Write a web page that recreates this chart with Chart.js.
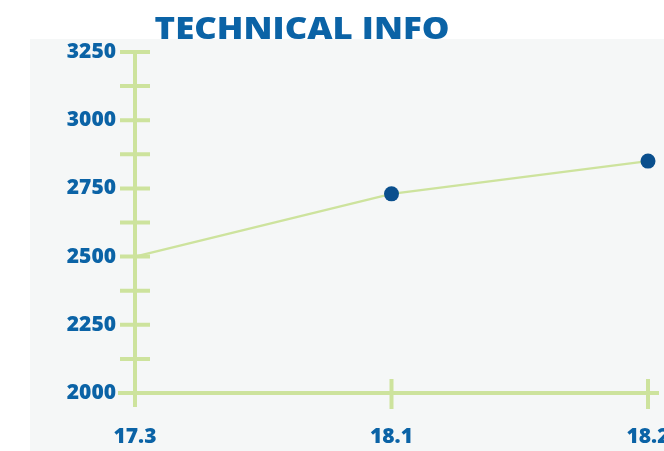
<!DOCTYPE html>
<html>
<head>
<meta charset="utf-8">
<script src="https://cdn.jsdelivr.net/npm/chart.js@4"></script>
<style>
  html, body { margin: 0; padding: 0; background: #fff; }
  #wrap { width: 664px; height: 451px; position: relative; }
</style>
</head>
<body>
<div id="wrap"><canvas id="chart"></canvas></div>
<script>
const labels = ['17.3', '18.1', '18.2'];
const values = [2500, 2730, 2850];
const dotSizes = [0, 7.5, 7.5];
const yMin = 2000;
const yMax = 3250;
const yStep = 125;

const green = '#cde39d';
const blue = '#0b63a6';
const dotBlue = '#0a4f8d';

// gray panel, axis lines with crossing ticks, and the heading
const decorations = {
  id: 'decorations',
  beforeDraw(chart) {
    const ctx = chart.ctx;
    ctx.save();
    ctx.fillStyle = '#f5f7f7';
    ctx.fillRect(30, 39, chart.width - 30, chart.height - 39);
    ctx.restore();
  },
  beforeDatasetsDraw(chart) {
    const { ctx, chartArea, scales } = chart;
    const x0 = scales.x.getPixelForValue(0);
    const y0 = scales.y.getPixelForValue(yMin);
    ctx.save();
    ctx.strokeStyle = green;
    ctx.lineWidth = 4;
    ctx.beginPath();
    ctx.moveTo(x0, chartArea.top - 1);
    ctx.lineTo(x0, y0 + 14);
    ctx.moveTo(x0 - 17, y0);
    ctx.lineTo(chart.width - 5, y0);
    scales.y.ticks.forEach(t => {
      const y = scales.y.getPixelForValue(t.value);
      if (t.value === yMin) return;
      ctx.moveTo(x0 - 15, y);
      ctx.lineTo(x0 + 15, y);
    });
    labels.forEach((l, i) => {
      if (i === 0) return;
      const x = scales.x.getPixelForValue(i);
      ctx.moveTo(x, y0 - 14);
      ctx.lineTo(x, y0 + 16);
    });
    ctx.stroke();
    ctx.restore();
  },
  afterDraw(chart) {
    const ctx = chart.ctx;
    ctx.save();
    ctx.fillStyle = blue;
    ctx.font = '800 30px "Open Sans"';
    ctx.textAlign = 'center';
    ctx.textBaseline = 'alphabetic';
    ctx.translate(302, 39);
    ctx.scale(1.16, 1);
    ctx.fillText('TECHNICAL INFO', 0, 0);
    ctx.restore();
  }
};

const tickFont = { family: 'Open Sans', size: 21, weight: '800' };

new Chart(document.getElementById('chart'), {
  type: 'line',
  data: {
    labels: labels,
    datasets: [{
      data: values,
      borderColor: green,
      borderWidth: 2.5,
      pointRadius: dotSizes,
      pointHoverRadius: dotSizes,
      pointBackgroundColor: dotBlue,
      pointBorderWidth: 0,
      tension: 0,
      clip: false
    }]
  },
  options: {
    responsive: true,
    maintainAspectRatio: false,
    animation: false,
    layout: { padding: { top: 52, right: 16, left: 0, bottom: 0 } },
    plugins: {
      legend: { display: false },
      tooltip: { enabled: false },
      title: { display: false }
    },
    scales: {
      x: {
        offset: false,
        grid: { display: false, drawTicks: false },
        border: { display: false },
        ticks: {
          color: blue,
          font: tickFont,
          padding: 31,
          maxRotation: 0,
          autoSkip: false
        },
        afterFit(s) {
          s.height = 58;
          s.paddingLeft = 0;
          s.paddingRight = 0;
        }
      },
      y: {
        min: yMin,
        max: yMax,
        grid: { display: false, drawTicks: false },
        border: { display: false },
        ticks: {
          stepSize: yStep,
          autoSkip: false,
          color: blue,
          font: tickFont,
          padding: 19,
          callback: v => (v % 250 === 0 ? String(v) : '')
        },
        afterFit(s) {
          s.width = 135;
          s.paddingTop = 0;
          s.paddingBottom = 0;
        }
      }
    }
  },
  plugins: [decorations]
});
</script>
</body>
</html>
